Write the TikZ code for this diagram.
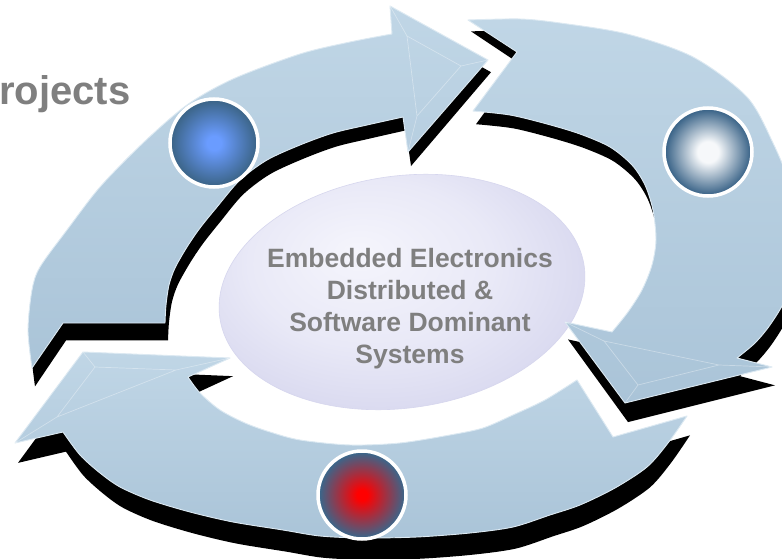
\documentclass[tikz,border=0pt]{standalone}
\usepackage{fontspec}
\setmainfont{Liberation Sans}
\usetikzlibrary{shapes.geometric}

\definecolor{ringtop}{HTML}{C0D6E6}
\definecolor{ringbot}{HTML}{AAC4D8}
\definecolor{ringedge}{HTML}{DCE9F2}
\definecolor{labelgray}{HTML}{7F7F7F}
\definecolor{balledge}{HTML}{3C6589}
\definecolor{ballblue}{HTML}{6A9CFF}
\definecolor{ballwhite}{HTML}{F6F8FA}
\definecolor{ballred}{HTML}{FF0000}
\definecolor{hubcore}{HTML}{F5F5FC}
\definecolor{hubmid}{HTML}{E9E9F7}
\definecolor{hubrim}{HTML}{D6D6EE}

\pgfdeclareradialshading{ballshadeblue}{\pgfpoint{0bp}{0bp}}{%
  color(0bp)=(ballblue); color(4bp)=(ballblue); color(24bp)=(balledge); color(50bp)=(balledge)}
\pgfdeclareradialshading{ballshadewhite}{\pgfpoint{0bp}{0bp}}{%
  color(0bp)=(ballwhite); color(6bp)=(ballwhite); color(24bp)=(balledge); color(50bp)=(balledge)}
\pgfdeclareradialshading{ballshadered}{\pgfpoint{0bp}{0bp}}{%
  color(0bp)=(ballred); color(3bp)=(ballred); color(24bp)=(balledge); color(50bp)=(balledge)}
\pgfdeclareradialshading{hubshade}{\pgfpoint{-6bp}{8bp}}{%
  color(0bp)=(hubcore); color(16bp)=(hubmid); color(30bp)=(hubrim); color(50bp)=(hubrim)}

% outlines of the three curved arrows (pixel-like units, y pointing down)
\newcommand\ArrowOnePath{%
  (32,368) -- plot[smooth] coordinates {(32,368) (28,330) (32,290) (40,267) (67,230) (100,187)
      (143,143) (187,105) (233,79) (300,54) (350,42) (392,34)}
  -- (390,6) -- (488,60) -- (408,152) -- (403,117)
  -- plot[smooth] coordinates {(403,117) (367,125) (333,133) (300,145) (267,160) (240,180)
      (217,207) (200,228) (187,247) (175,268) (169,285) (166,305) (165,323)}
  -- (63,323) -- cycle}
\newcommand\ArrowTwoPath{%
  (468,20) -- plot[smooth] coordinates {(468,20) (520,19) (560,23) (627,34) (693,57) (747,97)
      (773,143) (790,185) (797,225) (796,265) (785,300) (770,325) (755,343) (737,358)}
  -- (772,367) -- (625,403) -- (565,322) -- (612,332)
  -- plot[smooth] coordinates {(612,332) (628,312) (642,290) (652,265) (656,240) (653,210)
      (645,185) (632,165) (610,147) (580,134) (547,124) (510,115) (473,111)}
  -- (517,52) -- cycle}
\newcommand\ArrowThreePath{%
  (687,416) -- plot[smooth] coordinates {(687,416) (668,443) (647,467) (615,488) (580,505)
      (550,515) (513,527) (470,533) (417,537) (363,538) (320,536) (283,530) (233,522)
      (190,512) (150,500) (120,487) (100,473) (80,455) (63,432)}
  -- (15,443) -- (83,352) -- (230,358) -- (188,377)
  -- plot[smooth] coordinates {(188,377) (200,393) (220,410) (245,423) (270,432) (300,440)
      (350,445) (400,443) (450,435) (483,428) (513,415) (545,400) (577,380)}
  -- (613,437) -- cycle}

\tikzset{
  arrowbody/.style={top color=ringtop, bottom color=ringbot, draw=ringedge, line width=0.9pt, line join=round},
  arrowside/.style={fill=black},
  bevel/.style={draw=white, draw opacity=0.35, line width=0.7pt, line join=round},
  ball/.style={circle, shade, minimum size=88pt, inner sep=0pt, draw=white, line width=3.5pt},
  hub/.style={ellipse, shade, shading=hubshade, minimum width=368pt, minimum height=232pt,
              inner sep=0pt, draw=hubrim, line width=0.6pt, rotate=8},
  boldgray/.style={text=labelgray, inner sep=0pt}
}

\begin{document}
\begin{tikzpicture}[x=1pt,y=-1pt]
\useasboundingbox (0,0) rectangle (782,559);
\clip (0,0) rectangle (782,559);
\fill[white] (0,0) rectangle (782,559);

% central ellipse
\node[hub] (hub) at (402,292) {};

% extruded side walls of the arrows
\begin{scope}[shift={(3,11)}, yscale=1.02]
  \fill[arrowside] \ArrowOnePath;
  \fill[arrowside] \ArrowTwoPath;
  \fill[arrowside] \ArrowThreePath;
\end{scope}

% arrow faces
\path[arrowbody] \ArrowOnePath;
\path[arrowbody] \ArrowTwoPath;
\path[arrowbody] \ArrowThreePath;

% bevel ridges on the arrow heads
\draw[bevel] (390,6) -- (407,36) -- (461,66) -- (488,60)
             (407,36) -- (417,116) -- (408,152) (417,116) -- (461,66);
\draw[bevel] (772,367) -- (719,365) -- (638,385) -- (625,403)
             (719,365) -- (604,341) -- (565,322) (604,341) -- (638,385);
\draw[bevel] (15,443) -- (57,417) -- (95,367) -- (83,352)
             (57,417) -- (176,370) -- (230,358) (176,370) -- (95,367);

% caption
\node[boldgray, anchor=base, align=center, font=\fontsize{26.5}{32}\selectfont\bfseries]
  (caption) at (410,363) {Embedded Electronics\\Distributed \&\\Software Dominant\\Systems};

% markers on the arrows
\node[ball, shading=ballshadeblue] (blueball) at (214,143) {};
\node[ball, shading=ballshadewhite] (whiteball) at (708,152) {};
\node[ball, shading=ballshadered] (redball) at (362,495) {};

% heading, partly outside the frame
\node[boldgray, anchor=base west, font=\fontsize{40}{48}\selectfont\bfseries]
  (heading) at (-1,105) {rojects};
\end{tikzpicture}
\end{document}
